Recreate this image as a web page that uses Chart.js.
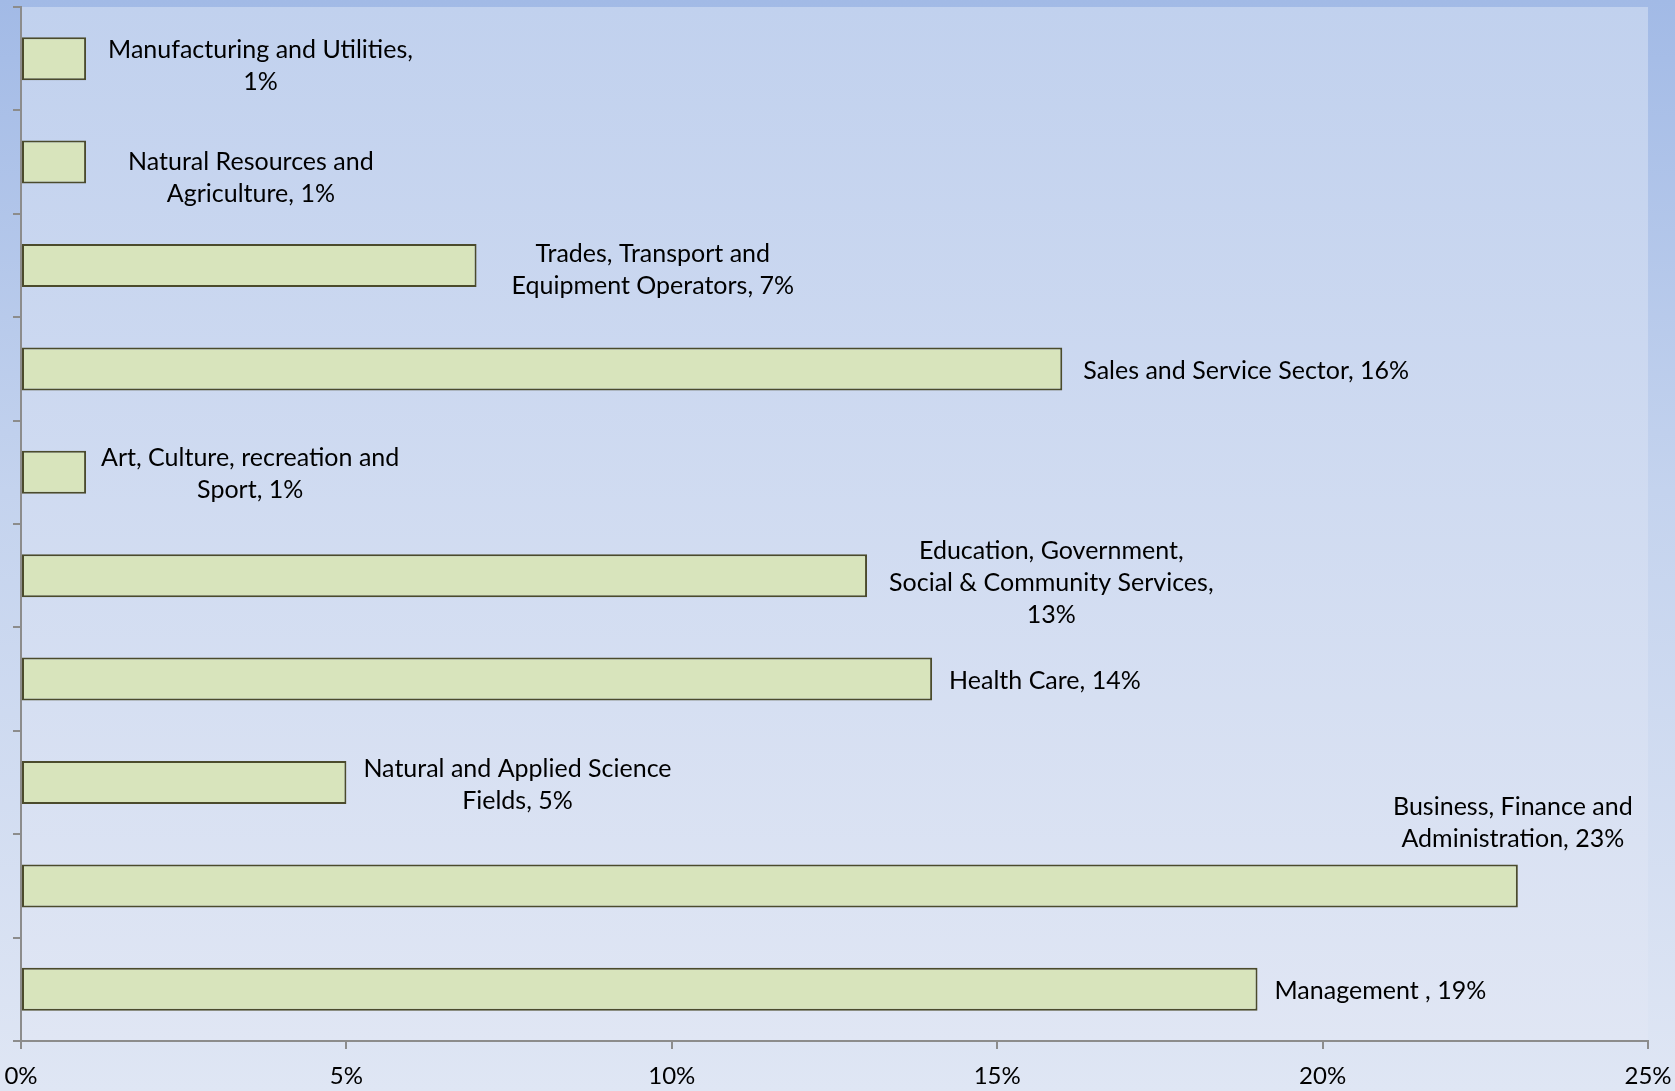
<!DOCTYPE html>
<html>
<head>
  <title>Occupations</title>
  <style>
    html, body {
      margin: 0;
      padding: 0;
      width: 1675px;
      height: 1091px;
      overflow: hidden;
      background: linear-gradient(180deg, #a2bae6 0%, #c4d3ee 45%, #dfe6f4 100%);
    }
    #wrap {
      position: relative;
      width: 1675px;
      height: 1091px;
    }
  </style>
</head>
<body>
  <div id="wrap"><canvas id="chart"></canvas></div>

  <script src="https://cdn.jsdelivr.net/npm/chart.js"></script>
  <script>
    // top to bottom, as in the picture
    const categories = [
      'Manufacturing and Utilities',
      'Natural Resources and Agriculture',
      'Trades, Transport and Equipment Operators',
      'Sales and Service Sector',
      'Art, Culture, recreation and Sport',
      'Education, Government, Social & Community Services',
      'Health Care',
      'Natural and Applied Science Fields',
      'Business, Finance and Administration',
      'Management '
    ];
    const values = [1, 1, 7, 16, 1, 13, 14, 5, 23, 19];
    const labelLines = [
      ['Manufacturing and Utilities,', '1%'],
      ['Natural Resources and', 'Agriculture, 1%'],
      ['Trades, Transport and', 'Equipment Operators, 7%'],
      ['Sales and Service Sector, 16%'],
      ['Art, Culture, recreation and', 'Sport, 1%'],
      ['Education, Government,', 'Social & Community Services,', '13%'],
      ['Health Care, 14%'],
      ['Natural and Applied Science', 'Fields, 5%'],
      ['Business, Finance and', 'Administration, 23%'],
      ['Management , 19%']
    ];
    const labelPlace = ['right', 'right', 'right', 'right', 'right', 'right', 'right', 'right', 'above', 'right'];
    // hand nudges of the data labels, like the moved labels in the original
    const labelNudgeX = [5, 25, 18, 4, -2, 5, 0, 0, -5, 0];
    const labelNudgeY = [7, 16, 4, 2, 2, 7, 2, 2, 1, 2];
    const xTicks = [0, 5, 10, 15, 20, 25];

    const FONT = 'Lato, "Open Sans", sans-serif';

    // light gradient behind the plot area
    const plotBg = {
      id: 'plotBg',
      beforeDraw(chart) {
        const { ctx, chartArea: a } = chart;
        const g = ctx.createLinearGradient(0, a.top, 0, a.bottom);
        g.addColorStop(0, '#c1d1ee');
        g.addColorStop(1, '#e0e6f4');
        ctx.save();
        ctx.fillStyle = g;
        ctx.fillRect(a.left, a.top, a.right - a.left, a.bottom - a.top);
        ctx.restore();
      }
    };

    // Excel-like data labels next to each bar
    const barLabels = {
      id: 'barLabels',
      afterDatasetsDraw(chart) {
        const { ctx } = chart;
        const meta = chart.getDatasetMeta(0);
        const lh = 32;
        ctx.save();
        ctx.font = '25px ' + FONT;
        ctx.fillStyle = '#000';
        ctx.textBaseline = 'middle';
        ctx.textAlign = 'center';
        meta.data.forEach((bar, i) => {
          const lines = labelLines[i];
          const w = Math.max(...lines.map(l => ctx.measureText(l).width));
          let cx, y0;
          if (labelPlace[i] === 'above') {
            cx = bar.x;
            y0 = bar.y - bar.height / 2 - 26 - (lines.length - 1) * lh;
          } else {
            cx = bar.x + 17 + w / 2;
            y0 = bar.y - (lines.length - 1) * lh / 2;
          }
          cx += labelNudgeX[i];
          y0 += labelNudgeY[i];
          lines.forEach((l, k) => ctx.fillText(l, cx, y0 + k * lh));
        });
        ctx.restore();
      }
    };

    new Chart(document.getElementById('chart'), {
      type: 'bar',
      data: {
        labels: categories,
        datasets: [{
          data: values,
          backgroundColor: '#d8e4bc',
          borderColor: '#4b4b2c',
          borderWidth: 2,
          borderSkipped: false,
          barPercentage: 0.416,
          categoryPercentage: 1
        }]
      },
      options: {
        indexAxis: 'y',
        responsive: true,
        maintainAspectRatio: false,
        animation: false,
        layout: { padding: { top: 7, right: 27, left: 0, bottom: 0 } },
        plugins: {
          legend: { display: false },
          tooltip: { enabled: false }
        },
        scales: {
          x: {
            min: 0,
            max: 25,
            afterBuildTicks: s => { s.ticks = xTicks.map(v => ({ value: v })); },
            afterFit: s => { s.height = 50; s.paddingLeft = 0; s.paddingRight = 0; },
            border: { color: '#8c8c8c', width: 2 },
            grid: { drawOnChartArea: false, tickLength: 8, color: '#8c8c8c', lineWidth: 2 },
            ticks: {
              maxRotation: 0,
              padding: 13,
              color: '#000',
              font: { family: FONT, size: 24 },
              callback: v => v + '%'
            }
          },
          y: {
            afterFit: s => { s.width = 21; },
            border: { color: '#8c8c8c', width: 2 },
            grid: { offset: true, drawOnChartArea: false, tickLength: 8, color: '#8c8c8c', lineWidth: 2 },
            ticks: { display: false }
          }
        }
      },
      plugins: [plotBg, barLabels]
    });
  </script>
</body>
</html>
